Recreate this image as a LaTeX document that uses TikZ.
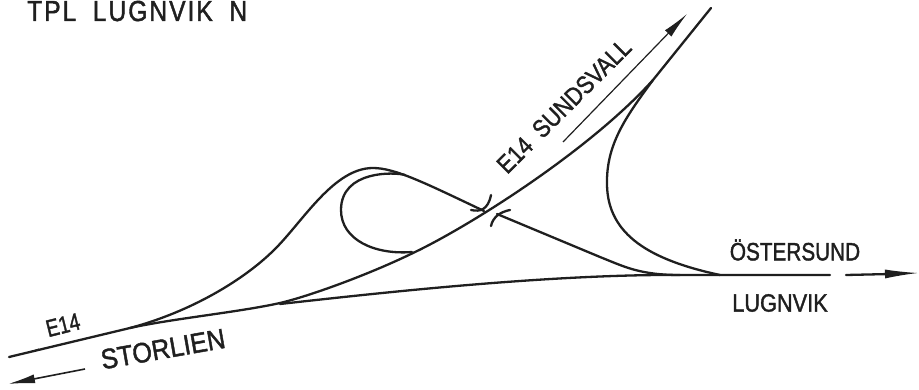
\documentclass[tikz,border=0pt]{standalone}
\usepackage{fontspec}
\usepackage{graphicx}
\setmainfont[FakeBold=1.6]{Liberation Sans}
\usetikzlibrary{arrows.meta}
\newcommand{\narrowtext}[2]{\scalebox{#1}[1]{#2}}
\tikzset{
  road/.style={line width=2.3pt,black!88,line cap=round,line join=round},
  lab/.style={inner sep=0pt,black!88}
}
\begin{document}
\begin{tikzpicture}[x=1pt,y=-1pt]
\useasboundingbox (0,0) rectangle (919,390);
% main road, through to Sundsvall
\draw[road] (9,357) -- (130,328) .. controls (170,319) and (240,312) .. (280,303)
  .. controls (310,296) and (370,274) .. (413,253)
  .. controls (470,226) and (590,150) .. (653,80) -- (711,8);
% curve from Ostersund up to the main road
\draw[road] (653,80) .. controls (625,118) and (606,145) .. (607,185)
  .. controls (608,235) and (650,260) .. (720,275);
% lower road
\draw[road] (280,304) .. controls (370,294) and (530,276) .. (660,275) -- (830,275);
\draw[road] (846,275) -- (890,274);
\draw[line width=1.2pt,black!88,-{Latex[length=33pt,width=9pt]}] (884,274) -- (918,273);
% upper branch and loop
\draw[road] (130,328) .. controls (190,312) and (245,280) .. (277,247)
  .. controls (305,218) and (335,168) .. (373,168)
  .. controls (395,168) and (425,183) .. (484,211);
\draw[road] (405,175) .. controls (395,172) and (341,170) .. (341,210)
  .. controls (341,240) and (375,255) .. (412,252);
% hand-drawn heads
\draw[road] (471,210) .. controls (480,212) and (488,210) .. (491,195);
\draw[road] (491,226) .. controls (493,217) and (500,212) .. (510,210);
\draw[road] (497,214) -- (600,257) .. controls (625,267) and (640,275) .. (680,275);
% direction arrows
\draw[line width=1.2pt,black!88,-{Latex[length=27pt,width=9pt]}] (563,142) -- (687,14);
\draw[line width=1.6pt,black!88,-{Latex[length=27pt,width=9pt]}] (85,369) -- (8,384);
\draw[line width=1pt,black!88] (39,349) -- (30,352);
% labels
\node[lab,anchor=base west,font=\fontsize{29}{30}\selectfont\addfontfeature{LetterSpace=8}] (title) at (27,21) {\narrowtext{.85}{TPL\hspace{9pt} LUGNVIK\hspace{9pt} N}};
\node[lab,rotate=14,font=\fontsize{24}{26}\selectfont] (e14a) at (63,325) {\narrowtext{.8}{E14}};
\node[lab,rotate=10,font=\fontsize{28}{30}\selectfont] (stor) at (163,349) {\narrowtext{.9}{STORLIEN}};
\node[lab,rotate=45,anchor=base west,font=\fontsize{25}{27}\selectfont] (sund) at (507,175) {\narrowtext{.87}{E14\hspace{6pt} SUNDSVALL}};
\node[lab,font=\fontsize{25}{27}\selectfont] (ost) at (795,250) {\narrowtext{.83}{ÖSTERSUND}};
\node[lab,font=\fontsize{25}{27}\selectfont] (lug) at (780,303) {\narrowtext{.87}{LUGNVIK}};
\end{tikzpicture}
\end{document}
